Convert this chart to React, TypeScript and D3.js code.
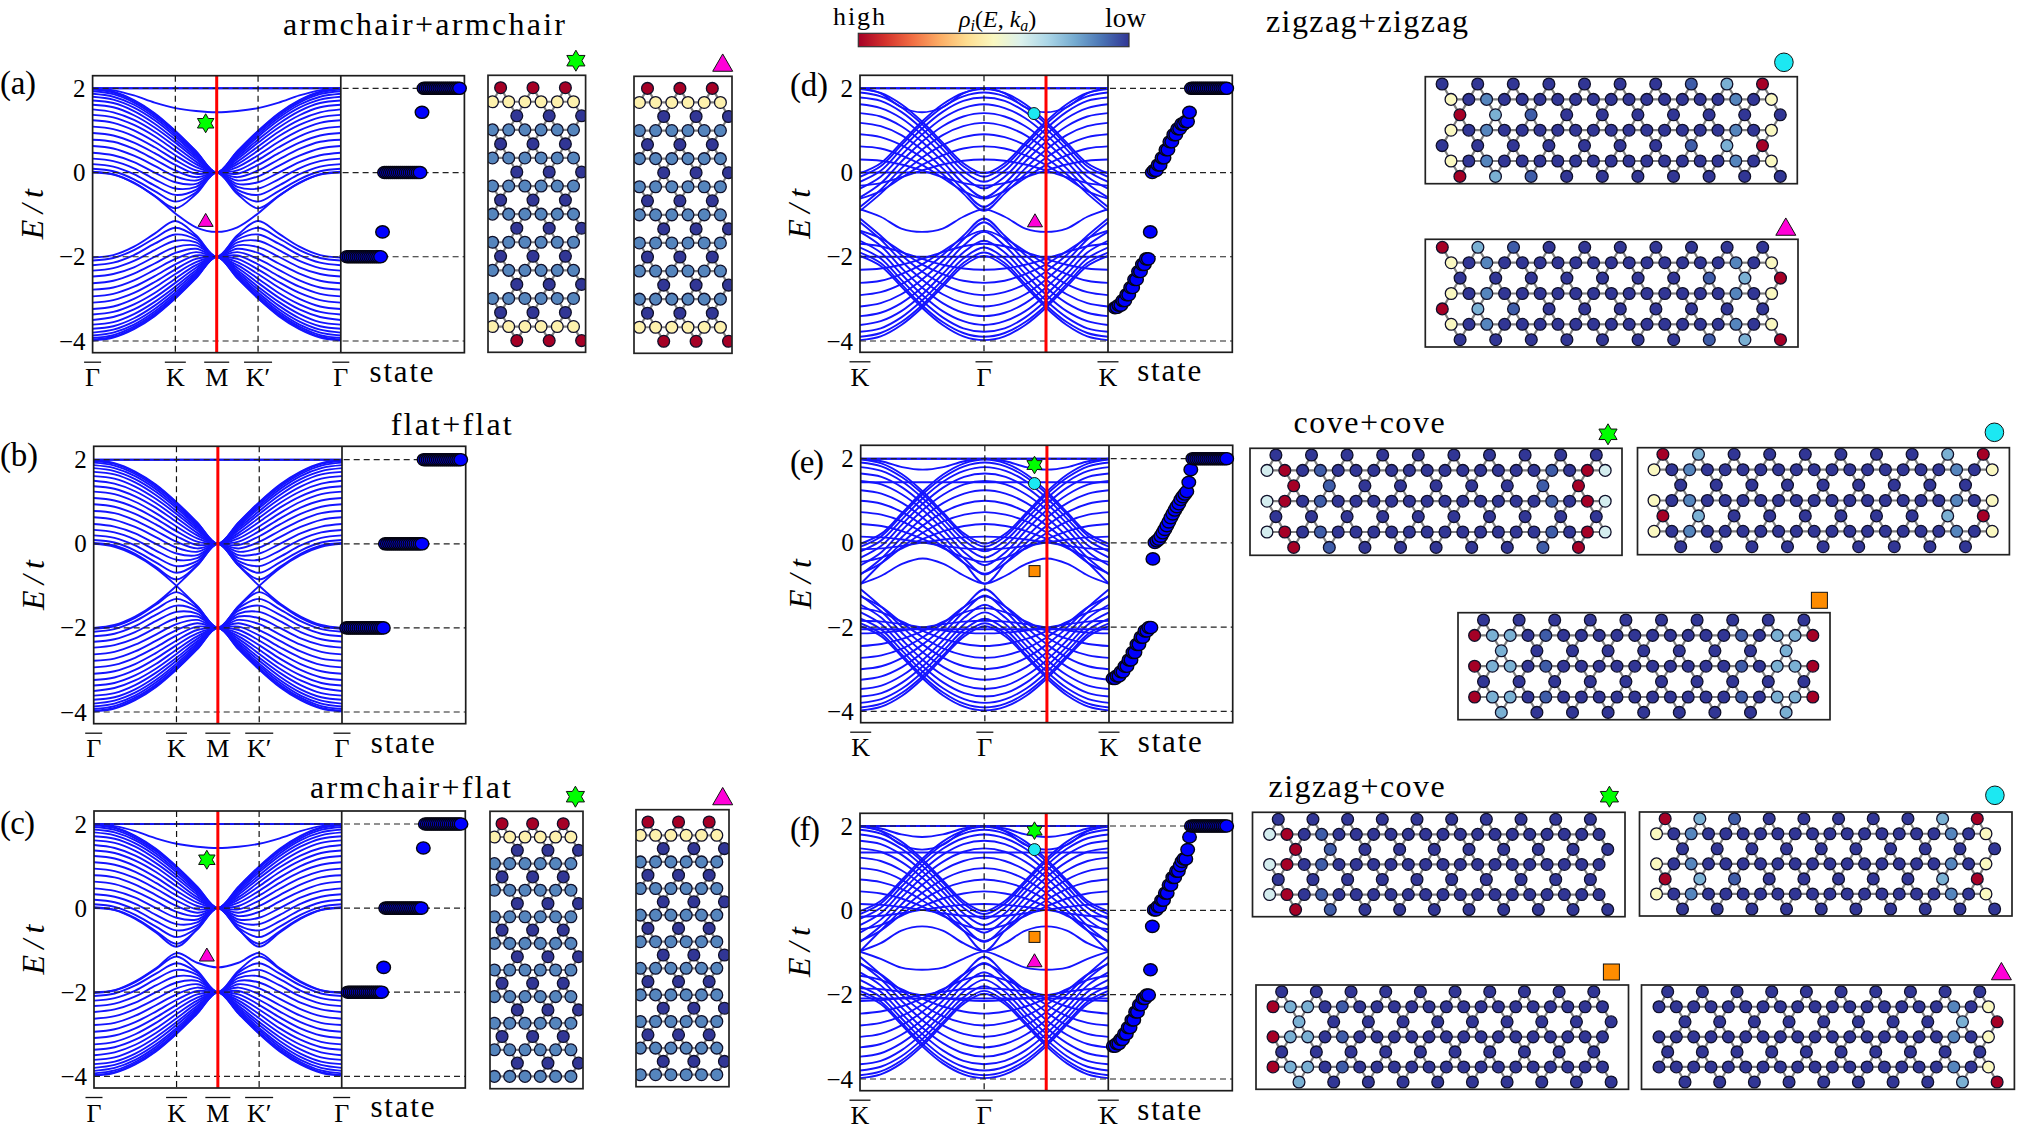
import React from 'react'
import * as d3 from 'd3'

// band values: Gamma -> M for armchair panels (k in degrees along the cut), mirrored on the other side
const armchairK = [0, 15, 30, 45, 60, 75, 90, 105, 120, 135, 150, 165, 180]
const zigzagK = [-180, -150, -120, -90, -60, -30, 0, 30, 60, 90, 120, 150, 180]

const armchairUpper = [
  [1.99, 1.92, 1.72, 1.41, .99, .51, 0],
  [1.97, 1.90, 1.70, 1.39, .98, .50, 0],
  [1.93, 1.86, 1.66, 1.35, .95, .48, 0],
  [1.87, 1.80, 1.61, 1.30, .90, .45, 0],
  [1.80, 1.73, 1.54, 1.24, .85, .41, 0],
  [1.71, 1.65, 1.46, 1.16, .78, .37, 0],
  [1.61, 1.55, 1.36, 1.07, .71, .32, 0],
  [1.50, 1.43, 1.25, .97, .62, .26, 0],
  [1.37, 1.31, 1.13, .86, .52, .20, 0],
  [1.24, 1.18, 1, .73, .41, .13, 0],
  [1.09, 1.03, .86, .60, .30, .05, 0],
  [.94, .88, .71, .46, .18, -.03, 0],
  [.78, .73, .56, .31, .05, -.11, 0],
  [.63, .57, .40, .16, -.09, -.19, 0],
  [.47, .41, .25, 0, -.23, -.27, 0],
  [.33, .27, .10, -.16, -.38, -.34, 0],
  [.20, .14, -.04, -.31, -.53, -.41, 0],
  [.09, .03, -.16, -.44, -.69, -.47, 0],
  [.02, -.04, -.24, -.55, -.85, -.51, 0],
]
const armchairLower = [
  [-3.99, -3.92, -3.72, -3.41, -2.99, -2.51, -2],
  [-3.97, -3.90, -3.70, -3.39, -2.98, -2.50, -2],
  [-3.93, -3.86, -3.66, -3.35, -2.95, -2.48, -2],
  [-3.87, -3.80, -3.61, -3.30, -2.90, -2.45, -2],
  [-3.80, -3.73, -3.54, -3.24, -2.85, -2.41, -2],
  [-3.71, -3.65, -3.46, -3.16, -2.78, -2.37, -2],
  [-3.61, -3.55, -3.36, -3.07, -2.71, -2.32, -2],
  [-3.50, -3.43, -3.25, -2.97, -2.62, -2.26, -2],
  [-3.37, -3.31, -3.13, -2.86, -2.52, -2.20, -2],
  [-3.24, -3.18, -3, -2.73, -2.41, -2.13, -2],
  [-3.09, -3.03, -2.86, -2.60, -2.30, -2.05, -2],
  [-2.94, -2.88, -2.71, -2.46, -2.18, -1.97, -2],
  [-2.78, -2.73, -2.56, -2.31, -2.05, -1.89, -2],
  [-2.63, -2.57, -2.40, -2.16, -1.91, -1.81, -2],
  [-2.47, -2.41, -2.25, -2, -1.77, -1.73, -2],
  [-2.33, -2.27, -2.10, -1.84, -1.62, -1.66, -2],
  [-2.20, -2.14, -1.96, -1.69, -1.47, -1.59, -2],
  [-2.09, -2.03, -1.84, -1.56, -1.31, -1.53, -2],
  [-2.02, -1.96, -1.76, -1.45, -1.15, -1.49, -2],
]
const flatTop = [2, 2, 2, 2, 2, 2, 2]
const extraA = [flatTop, flatTop, [2, 1.95, 1.83, 1.66, 1.53, 1.46, 1.43], [0, -.05, -.25, -.56, -.97, -1.3, -1.41]]
const extraB = [flatTop, flatTop, [-2, -1.93, -1.73, -1.42, -1, -.52, 0], [0, -.07, -.27, -.58, -1, -1.48, -2]]
const extraC = [flatTop, flatTop, [2, 1.95, 1.83, 1.66, 1.53, 1.46, 1.43], [0, -.05, -.26, -.58, -.92, -.5, 0], [-2, -1.95, -1.74, -1.43, -1.07, -1.3, -1.41]]

const zigzagUpperD = [
  [1.98, 1.89, 1.62, 1.21, .71, .22, -.02],
  [1.90, 1.81, 1.55, 1.15, .65, .15, -.10],
  [1.78, 1.70, 1.44, 1.04, .55, .04, -.22],
  [1.62, 1.53, 1.29, .90, .41, -.10, -.38],
  [1.41, 1.33, 1.10, .73, .26, -.26, -.59],
  [1.18, 1.10, .89, .54, .10, -.41, -.82],
  [.91, .84, .65, .35, -.04, -.50, -.91],
  [.62, .57, .41, .18, -.13, -.44, -.62],
  [.31, .28, .19, .05, -.11, -.25, -.31],
  [0, 0, 0, 0, 0, 0, 0],
  [-.31, -.25, -.11, .05, .19, .28, .31],
  [-.62, -.44, -.13, .18, .41, .57, .62],
  [-.91, -.50, -.04, .35, .65, .84, .91],
  [-.82, -.41, .10, .54, .89, 1.10, 1.18],
  [-.59, -.26, .26, .73, 1.10, 1.33, 1.41],
  [-.38, -.10, .41, .90, 1.29, 1.53, 1.62],
  [-.22, .04, .55, 1.04, 1.44, 1.70, 1.78],
  [-.10, .15, .65, 1.15, 1.55, 1.81, 1.90],
  [-.02, .22, .71, 1.21, 1.62, 1.89, 1.98],
]
const zigzagLowerD = [
  [-3.98, -3.89, -3.62, -3.21, -2.71, -2.22, -1.98],
  [-3.90, -3.81, -3.55, -3.15, -2.65, -2.15, -1.90],
  [-3.78, -3.70, -3.44, -3.04, -2.55, -2.04, -1.78],
  [-3.62, -3.53, -3.29, -2.90, -2.41, -1.90, -1.62],
  [-3.41, -3.33, -3.10, -2.73, -2.26, -1.74, -1.41],
  [-3.18, -3.10, -2.89, -2.54, -2.10, -1.59, -1.18],
  [-2.91, -2.84, -2.65, -2.35, -1.96, -1.50, -1.09],
  [-2.62, -2.57, -2.41, -2.18, -1.87, -1.56, -1.38],
  [-2.31, -2.28, -2.19, -2.05, -1.89, -1.75, -1.69],
  [-2, -2, -2, -2, -2, -2, -2],
  [-1.69, -1.75, -1.89, -2.05, -2.19, -2.28, -2.31],
  [-1.38, -1.56, -1.87, -2.18, -2.41, -2.57, -2.62],
  [-1.09, -1.50, -1.96, -2.35, -2.65, -2.84, -2.91],
  [-1.18, -1.59, -2.10, -2.54, -2.89, -3.10, -3.18],
  [-1.41, -1.74, -2.26, -2.73, -3.10, -3.33, -3.41],
  [-1.62, -1.90, -2.41, -2.90, -3.29, -3.53, -3.62],
  [-1.78, -2.04, -2.55, -3.04, -3.44, -3.70, -3.78],
  [-1.90, -2.15, -2.65, -3.15, -3.55, -3.81, -3.90],
  [-1.98, -2.22, -2.71, -3.21, -3.62, -3.89, -3.98],
]
const extraD = [flatTop, flatTop, [2, 1.88, 1.55, 1.43, 1.55, 1.88, 2], [-.87, -1.05, -1.33, -1.41, -1.33, -1.05, -.87]]

const zigzagUpperEF = [
  [1.98, 1.89, 1.63, 1.22, .71, .22, -.02],
  [1.91, 1.82, 1.56, 1.16, .66, .16, -.09],
  [1.80, 1.71, 1.46, 1.06, .56, .06, -.20],
  [1.65, 1.57, 1.32, .93, .44, -.07, -.35],
  [1.47, 1.39, 1.15, .78, .30, -.22, -.53],
  [1.25, 1.17, .95, .60, .14, -.37, -.75],
  [1, .93, .73, .41, 0, -.48, -.97],
  [.73, .67, .51, .24, -.10, -.48, -.73],
  [.45, .40, .28, .09, -.13, -.35, -.45],
  [.15, .13, .08, .01, -.07, -.13, -.15],
  [-.15, -.13, -.07, .01, .08, .13, .15],
  [-.45, -.35, -.13, .09, .28, .40, .45],
  [-.73, -.48, -.10, .24, .51, .67, .73],
  [-.97, -.48, 0, .41, .73, .93, 1],
  [-.75, -.37, .14, .60, .95, 1.17, 1.25],
  [-.53, -.22, .30, .78, 1.15, 1.39, 1.47],
  [-.35, -.07, .44, .93, 1.32, 1.57, 1.65],
  [-.20, .06, .56, 1.06, 1.46, 1.71, 1.80],
  [-.09, .16, .66, 1.16, 1.56, 1.82, 1.91],
  [-.02, .22, .71, 1.22, 1.63, 1.89, 1.98],
]
const zigzagLowerEF = [
  [-3.98, -3.89, -3.63, -3.22, -2.71, -2.22, -1.98],
  [-3.91, -3.82, -3.56, -3.16, -2.66, -2.16, -1.91],
  [-3.80, -3.71, -3.46, -3.06, -2.56, -2.06, -1.80],
  [-3.65, -3.57, -3.32, -2.93, -2.44, -1.93, -1.65],
  [-3.47, -3.39, -3.15, -2.78, -2.30, -1.78, -1.47],
  [-3.25, -3.17, -2.95, -2.60, -2.14, -1.63, -1.25],
  [-3, -2.93, -2.73, -2.41, -2, -1.52, -1.10],
  [-2.73, -2.67, -2.51, -2.24, -1.90, -1.52, -1.27],
  [-2.45, -2.40, -2.28, -2.09, -1.87, -1.65, -1.55],
  [-2.15, -2.13, -2.08, -2.01, -1.93, -1.87, -1.85],
  [-1.85, -1.87, -1.93, -2.01, -2.08, -2.13, -2.15],
  [-1.55, -1.65, -1.87, -2.09, -2.28, -2.40, -2.45],
  [-1.27, -1.52, -1.90, -2.24, -2.51, -2.67, -2.73],
  [-1.10, -1.52, -2, -2.41, -2.73, -2.93, -3],
  [-1.25, -1.63, -2.14, -2.60, -2.95, -3.17, -3.25],
  [-1.47, -1.78, -2.30, -2.78, -3.15, -3.39, -3.47],
  [-1.65, -1.93, -2.44, -2.93, -3.32, -3.57, -3.65],
  [-1.80, -2.06, -2.56, -3.06, -3.46, -3.71, -3.80],
  [-1.91, -2.16, -2.66, -3.16, -3.56, -3.82, -3.91],
  [-1.98, -2.22, -2.71, -3.22, -3.63, -3.89, -3.98],
]
const extraE = [flatTop, flatTop, [2, 1.94, 1.8, 1.74, 1.8, 1.94, 2], [1.44, 1.44, 1.44, 1.44, 1.44, 1.44, 1.44], [-.97, -.78, -.5, -.37, -.5, -.78, -.97], [-2.05, -2.05, -2.05, -2.05, -2.05, -2.05, -2.05]]
const extraF = [flatTop, flatTop, [2, 1.94, 1.8, 1.74, 1.8, 1.94, 2], [2, 1.88, 1.55, 1.44, 1.55, 1.88, 2], [1.37, 1.37, 1.37, 1.37, 1.37, 1.37, 1.37], [-.97, -.78, -.48, -.38, -.48, -.78, -.97], [-.98, -1.15, -1.36, -1.41, -1.36, -1.15, -.98], [-2.09, -2.09, -2.09, -2.09, -2.09, -2.09, -2.09]]

// energies at the red cut, one per state
const statesA = [-2, -2, -2, -2, -2, -2, -2, -2, -2, -2, -2, -2, -2, -2, -2, -2, -2, -2, -1.41,
  0, 0, 0, 0, 0, 0, 0, 0, 0, 0, 0, 0, 0, 0, 0, 0, 0, 0, 0, 1.43,
  2, 2, 2, 2, 2, 2, 2, 2, 2, 2, 2, 2, 2, 2, 2, 2, 2, 2, 2]
const statesB = [-2, -2, -2, -2, -2, -2, -2, -2, -2, -2, -2, -2, -2, -2, -2, -2, -2, -2, -2,
  0, 0, 0, 0, 0, 0, 0, 0, 0, 0, 0, 0, 0, 0, 0, 0, 0, 0, 0,
  2, 2, 2, 2, 2, 2, 2, 2, 2, 2, 2, 2, 2, 2, 2, 2, 2, 2, 2]
const statesD = [-3.21, -3.2, -3.15, -3.15, -3.04, -3.04, -2.9, -2.9, -2.73, -2.73, -2.54, -2.54, -2.35, -2.35, -2.18, -2.18, -2.05, -2.05, -1.41,
  0, .05, .05, .18, .18, .35, .35, .54, .54, .73, .73, .9, .9, 1.04, 1.04, 1.15, 1.15, 1.21, 1.21, 1.43,
  2, 2, 2, 2, 2, 2, 2, 2, 2, 2, 2, 2, 2, 2, 2, 2, 2, 2, 2]
const statesE = [-3.22, -3.22, -3.16, -3.16, -3.06, -3.06, -2.93, -2.93, -2.78, -2.78, -2.6, -2.6, -2.41, -2.41, -2.24, -2.24, -2.09, -2.09, -2.01, -2.01, -.38,
  .01, .05, .09, .16, .24, .32, .41, .5, .6, .69, .78, .86, .93, 1.03, 1.1, 1.16, 1.22, 1.44, 1.74,
  2, 2, 2, 2, 2, 2, 2, 2, 2, 2, 2, 2, 2, 2, 2, 2, 2, 2]
const statesF = [-3.22, -3.22, -3.16, -3.16, -3.06, -3.06, -2.93, -2.93, -2.78, -2.78, -2.6, -2.6, -2.41, -2.41, -2.24, -2.24, -2.09, -2.09, -2.01, -2.01, -1.41, -.38,
  .01, .01, .09, .09, .24, .24, .41, .41, .6, .6, .78, .78, .93, .93, 1.06, 1.16, 1.22, 1.22, 1.44, 1.74,
  2, 2, 2, 2, 2, 2, 2, 2, 2, 2, 2, 2, 2, 2, 2, 2, 2, 2, 2, 2]

// site densities as letters, see levels below
const levels = { R: 0, Y: .46, P: .5, C: .62, L: .79, M: .87, B: .94, N: 1 }

const armA = ['RRR', 'YYYYYY', 'NNN', 'MMMMMM', 'NNN', 'MMMMMM', 'NNN', 'MMMMMM', 'NNN', 'MMMMMM', 'NNN', 'MMMMMM', 'NNN', 'MMMMMM', 'NNN', 'MMMMMM', 'NNN', 'YYYYYY', 'RRR']
const armC = ['RRR', 'YYYYYY', 'NNN', 'MMMMMM', 'NNN', 'MMMMMM', 'NNN', 'MMMMMM', 'NNN', 'MMMMMM', 'NNN', 'MMMMMM', 'NNN', 'MMMMMM', 'NNN', 'MMMMMM', 'NNN', 'MMMMMM', 'NNN', 'MMMMMM']

const d1Outer = 'NNNNNNNBLR'
const d1Inner = 'RLBNNNNNNN'
const dChain = 'PNMNNNNNNNNNNNNNMNP'
const latD1 = [d1Outer, dChain, d1Inner, dChain, d1Outer, dChain, d1Inner]
const latD2 = [d1Inner, dChain, d1Outer, dChain, d1Inner, dChain, d1Outer]

const allNavy10 = 'NNNNNNNNNN'
const allNavy9 = 'NNNNNNNNN'
const e1Chain = 'CRNBNNNNNNNNNNNNBNRC'
const latE1 = [allNavy10, e1Chain, 'RBNNNNNBR', e1Chain, allNavy10, e1Chain, 'RBNNNNNBR']
const e2Chain = 'PNMNNNNNNNNNNNNNNMNP'
const latE2 = ['RLNNNNNNLR', e2Chain, allNavy9, e2Chain, 'RLNNNNNNLR', e2Chain, allNavy9]
const e3Chain = 'RLLNBNNNNNNNNNNBNLLR'
const latE3 = [allNavy10, e3Chain, 'LNNNNNNNL', e3Chain, allNavy10, e3Chain, 'LNNNNNNNL']

const f1Chain = 'CRNBNNNNNNNNNNNNNNNN'
const latF1 = [allNavy10, f1Chain, 'RBNNNNNNNN', f1Chain, allNavy10, f1Chain, 'RBNNNNNNNN']
const latF2 = ['RLBNNNNNLR', e2Chain, allNavy10, e2Chain, 'RLBNNNNNLR', e2Chain, allNavy10]
const f3Chain = 'RLLNBNNNNNNNNNNNNNNN'
const latF3 = [allNavy10, f3Chain, 'LNNNNNNNNN', f3Chain, allNavy10, f3Chain, 'LNNNNNNNNN']
const f4Chain = 'NNNNNNNNNNNNNNNNNMNP'
const latF4 = [allNavy10, f4Chain, 'NNNNNNNNLR', f4Chain, allNavy10, f4Chain, 'NNNNNNNNLR']

const armTicks = [{ k: 0, t: 'Γ', w: 17 }, { k: 60, t: 'K', w: 21 }, { k: 90, t: 'M', w: 25 }, { k: 120, t: 'K′', w: 28 }, { k: 180, t: 'Γ', w: 17 }]
const zigTicks = [{ k: -180, t: 'K', w: 21 }, { k: 0, t: 'Γ', w: 17 }, { k: 180, t: 'K', w: 21 }]
const yTicks = [2, 0, -2, -4]

const FONT = '"Liberation Serif", serif'
const BLUE = '#1414ff'

const marks = {
  star: { fill: '#00ff00' },
  circle: { fill: '#1ce8f2' },
  square: { fill: '#ff8c00' },
  triangle: { fill: '#ff00d8' },
}

function Marker({ kind, x, y, s }) {
  const fill = marks[kind].fill
  const common = { fill, stroke: '#111', strokeWidth: 1 }
  if (kind === 'circle') return <circle cx={x} cy={y} r={s} {...common} />
  if (kind === 'square') return <rect x={x - s / 2} y={y - s / 2} width={s} height={s} {...common} />
  if (kind === 'triangle') {
    const d = d3.symbol().type(d3.symbolTriangle).size(s * s * Math.sqrt(3) / 4)()
    return <path d={d} transform={`translate(${x},${y + s * 0.1})`} {...common} />
  }
  const pts = d3.range(12).map(i => [i * Math.PI / 6, i % 2 ? s / Math.sqrt(3) : s])
  const d = d3.lineRadial().curve(d3.curveLinearClosed)(pts)
  return <path d={d} transform={`translate(${x},${y})`} {...common} />
}

function BandPanel({ p }) {
  const armchair = p.kind === 'armchair'
  const nodes = armchair ? armchairK : zigzagK
  const k = d3.scaleLinear().domain(d3.extent(nodes)).range([p.left, p.split])
  const y = d3.scaleLinear().domain([-4, 2]).range([p.y4, p.y2])
  const st = d3.scaleLinear().domain([0, p.states.length - 1]).range(p.stateRange)
  const line = d3.line()
    .x((d, i) => k(nodes[i]))
    .y(d => y(d))
    .curve(d3.curveCatmullRom.alpha(0.5))
  const full = r => armchair ? [...r, ...r.slice(0, -1).reverse()] : [...r.slice(1).reverse(), ...r]
  const vlines = armchair ? [60, 120] : [0]
  const clipId = 'clip-' + p.id

  return (
    <g fontFamily={FONT}>
      <clipPath id={clipId}><rect x={p.left} y={p.top} width={p.split - p.left} height={p.bottom - p.top} /></clipPath>
      <g clipPath={`url(#${clipId})`}>
        {p.rows.map((r, i) => <path key={i} d={line(full(r))} fill="none" stroke={BLUE} strokeWidth={1.9} />)}
      </g>
      {vlines.map(v => <line key={v} x1={k(v)} x2={k(v)} y1={p.top} y2={p.bottom} stroke="#111" strokeWidth={1.2} strokeDasharray="6 4" />)}
      {yTicks.map(t => (
        <line key={t} x1={p.left} x2={p.right} y1={y(t)} y2={y(t)} stroke="#222" strokeWidth={1.2} strokeDasharray="6 4" />
      ))}
      <line x1={k(90)} x2={k(90)} y1={p.top} y2={p.bottom} stroke="#ff0000" strokeWidth={3} />
      <rect x={p.left} y={p.top} width={p.right - p.left} height={p.bottom - p.top} fill="none" stroke="#1c1c1c" strokeWidth={1.7} />
      <line x1={p.split} x2={p.split} y1={p.top} y2={p.bottom} stroke="#1c1c1c" strokeWidth={1.7} />

      {p.states.map((e, i) => <ellipse key={i} cx={st(i)} cy={y(e)} rx={6.8} ry={6.1} fill="#0000ff" stroke="#050510" strokeWidth={1.4} />)}

      {p.markers.map((m, i) => <Marker key={i} kind={m.kind} x={k(m.k)} y={y(m.e)} s={m.s} />)}

      {yTicks.map(t => (
        <text key={t} x={p.left - 7} y={y(t)} dy="0.34em" textAnchor="end" fontSize={25}>{t < 0 ? '\u2212' + (-t) : t}</text>
      ))}
      <text transform={`translate(${p.left - 50},${(p.top + p.bottom) / 2}) rotate(-90)`} textAnchor="middle" fontSize={32} fontStyle="italic"
        textLength={50} lengthAdjust="spacing">E/t</text>

      {(armchair ? armTicks : zigTicks).map((t, i) => (
        <g key={i}>
          <line x1={k(t.k) - t.w / 2} x2={k(t.k) + t.w / 2} y1={p.bottom + 9.5} y2={p.bottom + 9.5} stroke="#111" strokeWidth={1.3} />
          <text x={k(t.k)} y={p.bottom + 33.5} textAnchor="middle" fontSize={26}>{t.t}</text>
        </g>
      ))}
      <text x={(p.split + p.right) / 2 - 1} y={p.bottom + 29} textAnchor="middle" fontSize={31} textLength={64} lengthAdjust="spacing">state</text>
      <text x={p.labelX} y={p.labelY} fontSize={33} textLength={p.labelW} lengthAdjust="spacing">{p.label}</text>
    </g>
  )
}

// kagome lattice: neighbours sit two columns apart on a row, or one column apart on the next row
function Lattice({ l }) {
  const px = d3.scaleLinear().domain([0, 1]).range([l.ox, l.ox + l.ux])
  const py = d3.scaleLinear().domain([0, 1]).range([l.oy, l.oy + l.uy])
  const atoms = l.rows.flatMap((row, r) => {
    const start = l.starts[r % l.starts.length]
    const step = row.length > 10 || row.length === 6 ? 2 : 4
    return [...row].map((code, i) => ({ r, c: start + i * step, code }))
  })
  const bonds = []
  atoms.forEach((a, i) => atoms.slice(i + 1).forEach(b => {
    const dr = Math.abs(a.r - b.r)
    const dc = Math.abs(a.c - b.c)
    if ((dr === 0 && dc === 2) || (dr === 1 && dc === 1)) bonds.push([a, b])
  }))
  const clipId = 'lat-' + l.id
  return (
    <g>
      <clipPath id={clipId}><rect x={l.box[0]} y={l.box[1]} width={l.box[2] - l.box[0]} height={l.box[3] - l.box[1]} /></clipPath>
      <rect x={l.box[0]} y={l.box[1]} width={l.box[2] - l.box[0]} height={l.box[3] - l.box[1]} fill="#fff" />
      <g clipPath={`url(#${clipId})`}>
        {bonds.map(([a, b], i) => <line key={i} x1={px(a.c)} y1={py(a.r)} x2={px(b.c)} y2={py(b.r)} stroke="#7d7d7d" strokeWidth={2.2} />)}
        {atoms.map((a, i) => <circle key={i} cx={px(a.c)} cy={py(a.r)} r={5.9} fill={d3.interpolateRdYlBu(levels[a.code])} stroke="#10102a" strokeWidth={1.3} />)}
      </g>
      <rect x={l.box[0]} y={l.box[1]} width={l.box[2] - l.box[0]} height={l.box[3] - l.box[1]} fill="none" stroke="#222" strokeWidth={1.7} />
      <Marker kind={l.mark} x={l.markX} y={l.markY} s={l.markS} />
    </g>
  )
}

const panels = [
  { id: 'a', label: '(a)', labelX: 0, labelY: 94, labelW: 36, kind: 'armchair', left: 92.6, split: 340.8, right: 464.4, top: 75.7, bottom: 352.7, y2: 88.3, y4: 341,
    rows: [...armchairUpper, ...armchairLower, ...extraA], states: statesA, stateRange: [347, 459.5],
    markers: [{ kind: 'star', k: 82, e: 1.17, s: 9.5 }, { kind: 'triangle', k: 82, e: -1.14, s: 15 }] },
  { id: 'b', label: '(b)', labelX: 0, labelY: 466, labelW: 38, kind: 'armchair', left: 93.7, split: 342, right: 465.7, top: 446.3, bottom: 723.7, y2: 459.7, y4: 712,
    rows: [...armchairUpper, ...armchairLower, ...extraB], states: statesB, stateRange: [346.7, 460.7], markers: [] },
  { id: 'c', label: '(c)', labelX: 0, labelY: 834, labelW: 35, kind: 'armchair', left: 94, split: 341.7, right: 465.3, top: 811, bottom: 1088, y2: 824, y4: 1076.3,
    rows: [...armchairUpper, ...armchairLower, ...extraC], states: statesA, stateRange: [348, 461],
    markers: [{ kind: 'star', k: 82, e: 1.15, s: 9.5 }, { kind: 'triangle', k: 82, e: -1.12, s: 15 }] },
  { id: 'd', label: '(d)', labelX: 790, labelY: 96, labelW: 38, kind: 'zigzag', left: 860, split: 1108, right: 1232.3, top: 75.3, bottom: 352.3, y2: 88.3, y4: 341,
    rows: [...zigzagUpperD, ...zigzagLowerD, ...extraD], states: statesD, stateRange: [1115, 1226.7],
    markers: [{ kind: 'circle', k: 72.6, e: 1.4, s: 6 }, { kind: 'triangle', k: 74, e: -1.15, s: 15 }] },
  { id: 'e', label: '(e)', labelX: 790, labelY: 473, labelW: 34, kind: 'zigzag', left: 860.7, split: 1109, right: 1232.7, top: 445.3, bottom: 722.7, y2: 458.7, y4: 711.3,
    rows: [...zigzagUpperEF, ...zigzagLowerEF, ...extraE], states: statesE, stateRange: [1113, 1226.7],
    markers: [{ kind: 'star', k: 72, e: 1.85, s: 8.8 }, { kind: 'circle', k: 72, e: 1.41, s: 6 }, { kind: 'square', k: 72, e: -.67, s: 11 }] },
  { id: 'f', label: '(f)', labelX: 790, labelY: 840, labelW: 30, kind: 'zigzag', left: 860, split: 1108.3, right: 1232.3, top: 813.3, bottom: 1090.7, y2: 826, y4: 1079,
    rows: [...zigzagUpperEF, ...zigzagLowerEF, ...extraF], states: statesF, stateRange: [1113.3, 1226.7],
    markers: [{ kind: 'star', k: 73, e: 1.89, s: 8.8 }, { kind: 'circle', k: 73, e: 1.44, s: 6 }, { kind: 'square', k: 73, e: -.63, s: 11 }, { kind: 'triangle', k: 73, e: -1.2, s: 15 }] },
]

const armStarts = [1, 0, 3, 0]
const dStarts = [0, 1, 2, 1]

const lattices = [
  { id: 'a1', rows: armA, starts: armStarts, box: [488, 75.3, 585.6, 352.3], ox: 492.5, oy: 87.7, ux: 8.1, uy: 14.05, mark: 'star', markX: 575.9, markY: 60.7, markS: 10.5 },
  { id: 'a2', rows: armA, starts: armStarts, box: [634, 76.3, 732, 353.3], ox: 639.4, oy: 88.4, ux: 8.1, uy: 14.05, mark: 'triangle', markX: 722.7, markY: 63.5, markS: 20 },
  { id: 'c1', rows: armC, starts: armStarts, box: [490, 811.3, 583, 1088.7], ox: 494.4, oy: 823.7, ux: 7.65, uy: 13.3, mark: 'star', markX: 575.4, markY: 796.7, markS: 10.5 },
  { id: 'c2', rows: armC, starts: armStarts, box: [636, 809.7, 729, 1086.7], ox: 640.3, oy: 822, ux: 7.65, uy: 13.3, mark: 'triangle', markX: 722.7, markY: 797, markS: 20 },
  { id: 'd1', rows: latD1, starts: dStarts, box: [1425.3, 76.7, 1797.3, 183.7], ox: 1442.1, oy: 84, ux: 8.9, uy: 15.4, mark: 'circle', markX: 1783.9, markY: 62.3, markS: 9.3 },
  { id: 'd2', rows: latD2, starts: dStarts, box: [1425.3, 239.3, 1798, 347], ox: 1442.3, oy: 247.3, ux: 8.9, uy: 15.4, mark: 'triangle', markX: 1785.8, markY: 227.5, markS: 20 },
  { id: 'e1', rows: latE1, starts: armStarts, box: [1250, 448.3, 1622, 555.3], ox: 1267, oy: 455, ux: 8.9, uy: 15.4, mark: 'star', markX: 1608, markY: 434.3, markS: 10.5 },
  { id: 'e2', rows: latE2, starts: armStarts, box: [1637.5, 447.7, 2009.4, 554.7], ox: 1654, oy: 454.3, ux: 8.9, uy: 15.4, mark: 'circle', markX: 1994.4, markY: 432.3, markS: 9.3 },
  { id: 'e3', rows: latE3, starts: armStarts, box: [1458, 612.7, 1830, 719.7], ox: 1474.6, oy: 620, ux: 8.9, uy: 15.4, mark: 'square', markX: 1819.4, markY: 600.3, markS: 16 },
  { id: 'f1', rows: latF1, starts: armStarts, box: [1252.5, 812.3, 1625, 916.7], ox: 1269.6, oy: 819.3, ux: 8.67, uy: 15.05, mark: 'star', markX: 1609.4, markY: 796.7, markS: 10.5 },
  { id: 'f2', rows: latF2, starts: armStarts, box: [1639.5, 812, 2012, 916], ox: 1656.5, oy: 818.7, ux: 8.67, uy: 15.05, mark: 'circle', markX: 1994.9, markY: 795.3, markS: 9.3 },
  { id: 'f3', rows: latF3, starts: armStarts, box: [1256, 985, 1628.5, 1089.3], ox: 1273, oy: 991.7, ux: 8.67, uy: 15.05, mark: 'square', markX: 1611.4, markY: 972, markS: 16 },
  { id: 'f4', rows: latF4, starts: armStarts, box: [1641.5, 985, 2014.4, 1089.3], ox: 1659, oy: 991.7, ux: 8.67, uy: 15.05, mark: 'triangle', markX: 2001.4, markY: 972, markS: 20 },
]

const titles = [
  { t: 'armchair+armchair', x: 283, y: 35, w: 282 },
  { t: 'flat+flat', x: 390.7, y: 435, w: 121 },
  { t: 'armchair+flat', x: 310, y: 798, w: 201 },
  { t: 'zigzag+zigzag', x: 1266, y: 31.7, w: 202 },
  { t: 'cove+cove', x: 1293.6, y: 432.7, w: 151 },
  { t: 'zigzag+cove', x: 1268.6, y: 797, w: 176 },
]

const barStops = d3.range(0, 1.01, 0.1)

export default function App() {
  return (
    <svg width={2026} height={1143} style={{ position: 'absolute', left: 0, top: 0, display: 'block', background: '#fff' }}>
      <defs>
        <linearGradient id="rho">
          {barStops.map(t => <stop key={t} offset={t} stopColor={d3.interpolateRdYlBu(t)} />)}
        </linearGradient>
      </defs>
      {panels.map(p => <BandPanel key={p.id} p={p} />)}
      {lattices.map(l => <Lattice key={l.id} l={l} />)}
      <g fontFamily={FONT}>
        {titles.map(t => <text key={t.t} x={t.x} y={t.y} fontSize={32} textLength={t.w} lengthAdjust="spacing">{t.t}</text>)}
        <rect x={858.3} y={33.3} width={270.7} height={13.4} fill="url(#rho)" stroke="#333" strokeWidth={1.2} />
        <text x={833} y={24.5} fontSize={26} textLength={52} lengthAdjust="spacing">high</text>
        <text x={1105} y={27} fontSize={27} textLength={41} lengthAdjust="spacing">low</text>
        <text x={959} y={26.5} fontSize={24}>
          <tspan fontStyle="italic">ρ</tspan><tspan fontSize={16} dy={4} fontStyle="italic">i</tspan><tspan dy={-4}>(</tspan><tspan fontStyle="italic">E</tspan><tspan>, </tspan><tspan fontStyle="italic">k</tspan><tspan fontSize={16} dy={4} fontStyle="italic">a</tspan><tspan dy={-4}>)</tspan>
        </text>
      </g>
    </svg>
  )
}
